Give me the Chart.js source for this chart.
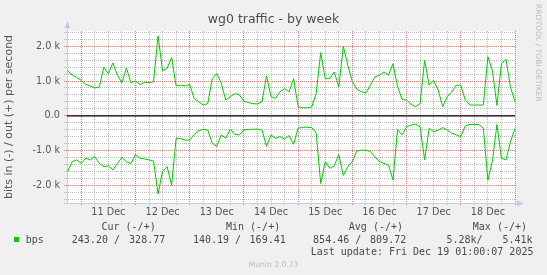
<!DOCTYPE html>
<html>
<head>
<meta charset="utf-8">
<script src="https://cdn.jsdelivr.net/npm/chart.js@4.4.1/dist/chart.umd.min.js"></script>
<style>
  html, body { margin: 0; padding: 0; background: #f0f0f0; }
  #wrap { position: relative; width: 547px; height: 275px; overflow: hidden; }
  #chart { position: absolute; left: 0; top: 0; }
  .t { position: absolute; white-space: pre; font: 10px "DejaVu Sans Mono", monospace; line-height: 10px; color: #4a4a4a; }
  .swatch { position: absolute; left: 14px; top: 237px; width: 5px; height: 5px; background: #00cc00; }
  .munin { position: absolute; left: 0; width: 547px; top: 261.3px; text-align: center; font: 7.6px "DejaVu Sans", sans-serif; line-height: 7.6px; color: #bdbdbd; }
  .rrd { position: absolute; left: 533.3px; top: 4px; width: 10px; line-height: 10px; writing-mode: vertical-rl; font: 7.6px "DejaVu Sans", sans-serif; color: #bdbdbd; white-space: nowrap; }
</style>
</head>
<body>
<div id="wrap">
  <canvas id="chart" width="547" height="275"></canvas>
  <div class="rrd">RRDTOOL / TOBI OETIKER</div>

  <div class="t" style="left:101.5px; top:222.2px">Cur (-/+)</div>
  <div class="t" style="left:226px; top:222.2px">Min (-/+)</div>
  <div class="t" style="left:348.8px; top:222.2px">Avg (-/+)</div>
  <div class="t" style="left:472.8px; top:222.2px">Max (-/+)</div>

  <div class="swatch"></div>
  <div class="t" style="left:25.8px; top:234.8px">bps</div>
  <div class="t" style="left:71.8px; top:234.8px">243.20 /</div>
  <div class="t" style="left:129.1px; top:234.8px">328.77</div>
  <div class="t" style="left:192.9px; top:234.8px">140.19 /</div>
  <div class="t" style="left:249.6px; top:234.8px">169.41</div>
  <div class="t" style="left:313.1px; top:234.8px">854.46 /</div>
  <div class="t" style="left:370.1px; top:234.8px">809.72</div>
  <div class="t" style="left:446.4px; top:234.8px">5.28k/</div>
  <div class="t" style="left:502.4px; top:234.8px">5.41k</div>

  <div class="t" style="left:310.7px; top:246.8px">Last update: Fri Dec 19 01:00:07 2025</div>
  <div class="munin">Munin 2.0.73</div>
</div>

<script>
// hours relative to 11 Dec 00:00, one sample every 2 hours
const days = ['11 Dec', '12 Dec', '13 Dec', '14 Dec', '15 Dec', '16 Dec', '17 Dec', '18 Dec'];
const dayLabelHours = [12, 36, 60, 84, 108, 132, 156, 180];
const xTicks = [0, 6, 12, 18, 24, 30, 36, 42, 48, 54, 60, 66, 72, 78, 84, 90, 96,
  102, 108, 114, 120, 126, 132, 138, 144, 150, 156, 162, 168, 174, 180, 186, 192];
const yTicks = [-2400, -2200, -2000, -1800, -1600, -1400, -1200, -1000, -800, -600, -400, -200, 0,
  200, 400, 600, 800, 1000, 1200, 1400, 1600, 1800, 2000, 2200, 2400];

// out (+), bits per second
const outBps = [
  1300, 1170, 1100, 1020, 900, 860, 800, 830, 1400, 1210,
  1520, 1170, 950, 1380, 950, 1000, 900, 960, 950, 980,
  2300, 1300, 1360, 1680, 860, 880, 860, 900, 500, 400,
  310, 350, 1070, 1220, 930, 450, 550, 640, 600, 420,
  380, 350, 340, 400, 1150, 550, 500, 690, 780, 690,
  1070, 260, 230, 230, 250, 640, 1820, 1070, 1070, 1260,
  830, 2000, 1450, 980, 760, 690, 660, 880, 1120, 1170,
  1260, 1170, 1500, 850, 480, 450, 330, 260, 350, 1600,
  880, 1020, 740, 260, 550, 690, 880, 880, 450, 310,
  310, 310, 310, 1700, 1300, 300, 1500, 1630, 830, 400
];
// in (-), bits per second (drawn below zero)
const inBps = [
  1600, 1320, 1270, 1370, 1220, 1270, 1180, 1370, 1470, 1440,
  1560, 1370, 1200, 1320, 1370, 1110, 1220, 1240, 1270, 1300,
  2250, 1600, 1460, 2000, 650, 650, 700, 700, 540, 430,
  390, 410, 790, 880, 550, 650, 380, 540, 550, 410,
  390, 390, 380, 410, 880, 550, 650, 600, 670, 570,
  820, 360, 330, 330, 340, 500, 1950, 1320, 1510, 1440,
  1110, 1720, 1460, 1320, 1010, 990, 990, 1030, 1180, 1320,
  1370, 1420, 1850, 400, 550, 320, 270, 240, 320, 1270,
  360, 460, 410, 340, 410, 500, 550, 600, 290, 250,
  250, 250, 360, 1850, 1300, 250, 1220, 1270, 750, 360
];
const hours = outBps.map((_, i) => -6 + 2 * i);

const xMin = -6.3, xMax = 192;
const yMin = -2510, yMax = 2440;

const GREEN = '#00cc00';
const MAJOR = 'rgba(225,105,105,0.85)';
const MINOR = 'rgba(160,160,160,0.7)';
const AXIS = 'rgb(198,203,238)';
const ARROW = 'rgb(188,198,242)';
const tickFont = { family: 'DejaVu Sans', size: 9.7 };

const fmtY = (v) => v === 0 ? '0.0' : (v / 1000).toFixed(1) + ' k';

const plotBg = {
  id: 'plotBg',
  beforeDraw(chart) {
    const { ctx, chartArea: a } = chart;
    ctx.save();
    ctx.fillStyle = '#ffffff';
    ctx.fillRect(a.left, a.top, a.right - a.left, a.bottom - a.top);
    ctx.restore();
  }
};

const axisArrows = {
  id: 'axisArrows',
  afterDraw(chart) {
    const { ctx, chartArea: a } = chart;
    const x0 = Math.round(a.left) + 0.5;
    const y0 = Math.round(a.bottom) + 0.5;
    ctx.save();
    ctx.strokeStyle = AXIS;
    ctx.lineWidth = 1;
    ctx.beginPath();
    ctx.moveTo(x0, a.top);
    ctx.lineTo(x0, a.top - 3);
    ctx.moveTo(a.left - 3, y0);
    ctx.lineTo(a.left, y0);
    ctx.moveTo(a.right, y0);
    ctx.lineTo(a.right + 2, y0);
    ctx.stroke();
    ctx.fillStyle = ARROW;
    ctx.beginPath();
    ctx.moveTo(x0, a.top - 9.5);
    ctx.lineTo(x0 - 3, a.top - 3);
    ctx.lineTo(x0 + 3, a.top - 3);
    ctx.closePath();
    ctx.fill();
    ctx.beginPath();
    ctx.moveTo(a.right + 8.5, y0);
    ctx.lineTo(a.right + 2, y0 - 3);
    ctx.lineTo(a.right + 2, y0 + 3);
    ctx.closePath();
    ctx.fill();
    ctx.restore();
  }
};

new Chart(document.getElementById('chart'), {
  type: 'line',
  data: {
    datasets: [
      {
        label: 'out',
        data: hours.map((h, i) => ({ x: h, y: outBps[i] })),
        borderColor: GREEN,
        borderWidth: 1,
        pointRadius: 0,
        tension: 0
      },
      {
        label: 'in',
        data: hours.map((h, i) => ({ x: h, y: -inBps[i] })),
        borderColor: GREEN,
        borderWidth: 1,
        pointRadius: 0,
        tension: 0
      },
      {
        label: 'zero',
        data: [{ x: xMin, y: 0 }, { x: xMax, y: 0 }],
        borderColor: '#000000',
        borderWidth: 1.2,
        pointRadius: 0
      }
    ]
  },
  options: {
    responsive: false,
    animation: false,
    devicePixelRatio: 1,
    layout: { padding: { left: 0, right: 0, top: 0, bottom: 52 } },
    plugins: {
      legend: { display: false },
      tooltip: { enabled: false },
      title: {
        display: true,
        text: 'wg0 traffic - by week',
        color: '#4d4d4d',
        font: { family: 'DejaVu Sans', size: 12.5, weight: 'normal' },
        padding: { top: 12.6, bottom: 3.4 }
      }
    },
    scales: {
      x: {
        type: 'linear',
        min: xMin,
        max: xMax,
        afterBuildTicks: (s) => { s.ticks = xTicks.map((v) => ({ value: v })); },
        afterFit: (s) => { s.height = 20; },
        grid: {
          color: (c) => (c.tick && c.tick.value % 24 === 0) ? MAJOR : MINOR,
          tickLength: 3,
          tickBorderDash: [1, 1]
        },
        border: { color: AXIS, dash: [1, 1] },
        ticks: {
          autoSkip: false,
          maxRotation: 0,
          padding: 1,
          color: '#555555',
          font: tickFont,
          callback: (v) => {
            const k = dayLabelHours.indexOf(v);
            return k < 0 ? '' : days[k];
          }
        }
      },
      y: {
        min: yMin,
        max: yMax,
        afterBuildTicks: (s) => { s.ticks = yTicks.map((v) => ({ value: v })); },
        afterFit: (s) => { s.width = 67; },
        grid: {
          color: (c) => (c.tick && c.tick.value % 1000 === 0) ? MAJOR : MINOR,
          tickLength: 3,
          tickBorderDash: [1, 1]
        },
        border: { color: AXIS, dash: [1, 1] },
        ticks: {
          autoSkip: false,
          padding: 4,
          color: '#555555',
          font: tickFont,
          callback: (v) => v % 1000 === 0 ? fmtY(v) : ''
        },
        title: {
          display: true,
          text: 'bits in (-) / out (+) per second',
          color: '#555555',
          font: { family: 'DejaVu Sans', size: 11 },
          padding: { top: 2.5, bottom: 0 }
        }
      },
      y2: {
        position: 'right',
        afterFit: (s) => { s.width = 32; },
        grid: { display: false },
        border: { display: false },
        ticks: { display: false }
      }
    }
  },
  plugins: [plotBg, axisArrows]
});
</script>
</body>
</html>
